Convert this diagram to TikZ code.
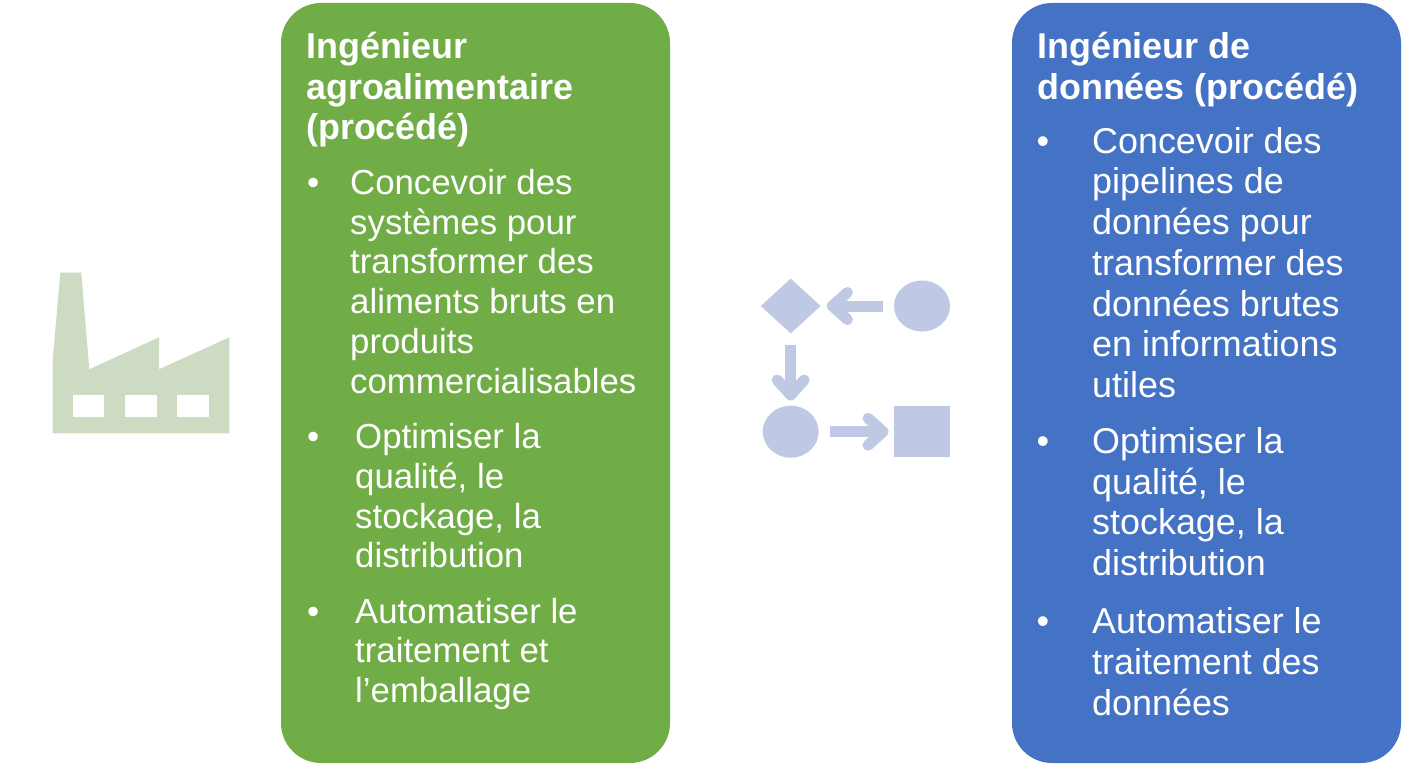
\documentclass[tikz,border=0pt]{standalone}
\usepackage{fontspec}
\setmainfont{Liberation Sans}
\usetikzlibrary{positioning,shapes.geometric,arrows.meta}

\definecolor{agrogreen}{HTML}{70AD47}
\definecolor{datablue}{HTML}{4472C4}
\definecolor{factorygreen}{HTML}{CDDBC3}
\definecolor{flowblue}{HTML}{C0C9E3}

\newcommand{\itembul}[1]{\strut\llap{\textbullet\hskip #1pt}}

\tikzset{
    panel/.style={minimum width=389pt, minimum height=760pt, rounded corners=40pt, inner sep=0pt},
    headtext/.style={text=white, inner sep=0pt, align=left, font=\bfseries\fontsize{35.9}{40.6}\selectfont},
    agroitem/.style={text=white, inner sep=0pt, align=left, font=\fontsize{34.8}{39.8}\selectfont},
    dataitem/.style={text=white, inner sep=0pt, align=left, font=\fontsize{35.9}{40.7}\selectfont},
    flowshape/.style={fill=flowblue, inner sep=0pt},
    flowarrow/.style={draw=flowblue, line width=11pt,
        -{Straight Barb[round, length=15pt, width=27pt]}},
}

\begin{document}
\begin{tikzpicture}[x=1pt, y=-1pt]
    \useasboundingbox (0,0) rectangle (1408,768);

    % factory icon
    \fill[factorygreen] (60.3,272.7) -- (81.3,272.7) -- (89.3,369.3) -- (159,337.3) -- (159,369.3)
        -- (229.3,337.3) -- (229.3,433.3) -- (52.7,433.3) -- (52.7,360) -- cycle;
    \fill[white] (73.3,395.3) rectangle (104.3,417);
    \fill[white] (125,395.3) rectangle (157,417);
    \fill[white] (177,395.3) rectangle (208.7,417);

    % left panel
    \node[panel, fill=agrogreen] (agro) at (475.5,383) {};
    \node[headtext, anchor=north west] (agrohead) at (306,30)
        {\strut Ingénieur\\agroalimentaire\\(procédé)\strut};
    \node[agroitem, below=14pt of agrohead.south west, anchor=north west, xshift=44pt] (agroa)
        {\itembul{31}Concevoir des\\systèmes pour\\transformer des\\aliments bruts en\\produits\\commercialisables\strut};
    \node[agroitem, below=15pt of agroa.south west, anchor=north west, xshift=5pt] (agrob)
        {\itembul{36}Optimiser la\\qualité, le\\stockage, la\\distribution\strut};
    \node[agroitem, below=15pt of agrob.south west, anchor=north west] (agroc)
        {\itembul{36}Automatiser le\\traitement et\\l’emballage\strut};

    % flow icon
    \node[flowshape, ellipse, minimum width=56pt, minimum height=51pt] (start) at (922,306) {};
    \node[flowshape, diamond, minimum width=60pt, minimum height=55pt] (choice) at (790.7,306) {};
    \node[flowshape, ellipse, minimum width=56pt, minimum height=52pt] (step) at (790.7,431.7) {};
    \node[flowshape, rectangle, minimum width=56pt, minimum height=51pt] (stop) at (921.7,431.7) {};
    \draw[flowarrow, shorten <=11pt, shorten >=6pt] (start) -- (choice);
    \draw[flowarrow, shorten <=11pt, shorten >=5pt] (choice) -- (step);
    \draw[flowarrow, shorten <=11pt, shorten >=5pt] (step) -- (stop);

    % right panel
    \node[panel, fill=datablue] (data) at (1206.5,383) {};
    \node[headtext, anchor=north west] (datahead) at (1037,30)
        {\strut Ingénieur de\\données (procédé)\strut};
    \node[dataitem, below=13pt of datahead.south west, anchor=north west, xshift=55pt] (dataa)
        {\itembul{43}Concevoir des\\pipelines de\\données pour\\transformer des\\données brutes\\en informations\\utiles\strut};
    \node[dataitem, below=15pt of dataa.south west, anchor=north west] (datab)
        {\itembul{43}Optimiser la\\qualité, le\\stockage, la\\distribution\strut};
    \node[dataitem, below=17pt of datab.south west, anchor=north west] (datac)
        {\itembul{43}Automatiser le\\traitement des\\données\strut};
\end{tikzpicture}
\end{document}
